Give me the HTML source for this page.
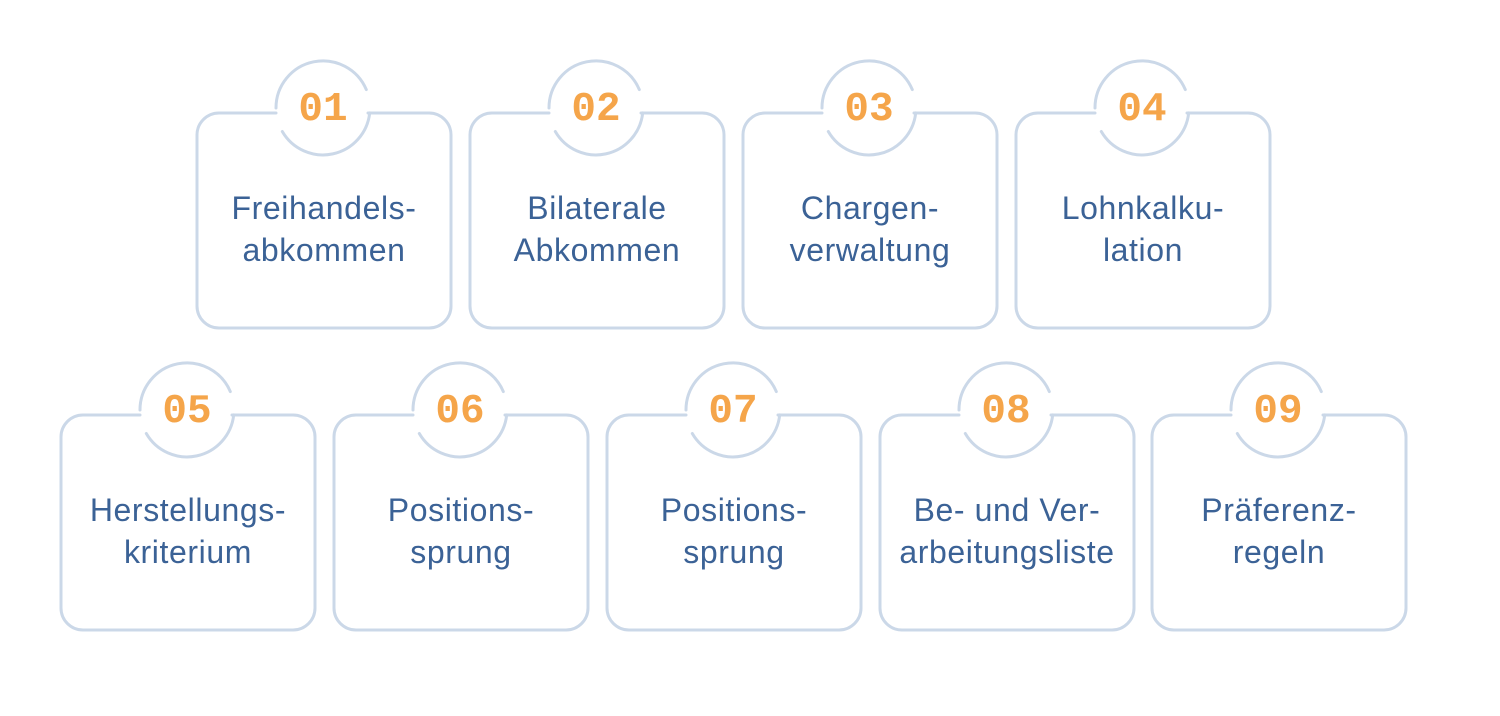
<!DOCTYPE html>
<html><head><meta charset="utf-8"><style>
html,body{margin:0;padding:0;background:#fff;}
svg{display:block;}
.t{font-family:"Liberation Sans",sans-serif;font-size:32px;letter-spacing:0.6px;fill:#3b6296;text-anchor:middle;}
.n{font-family:"Liberation Mono",monospace;font-weight:bold;font-size:41px;fill:#f5a54a;text-anchor:middle;}
</style></head><body>
<svg width="1500" height="716" viewBox="0 0 1500 716" xmlns="http://www.w3.org/2000/svg">
<defs>
<g id="c" fill="none" stroke="#cbd8e8" stroke-width="3" stroke-linecap="round">
<path d="M 79 0 H 22 A22 22 0 0 0 0 22 V 193 A22 22 0 0 0 22 215 H 232 A22 22 0 0 0 254 193 V 22 A22 22 0 0 0 232 0 H 171"/>
<path d="M 79 -5 A47 47 0 0 1 169.3 -23.4"/>
<path d="M 172.7 -0.1 A47 47 0 0 1 85.3 18.5"/>
</g>
</defs>
<use href="#c" x="197" y="113"/>
<use href="#c" x="470" y="113"/>
<use href="#c" x="743" y="113"/>
<use href="#c" x="1016" y="113"/>
<use href="#c" x="61" y="415"/>
<use href="#c" x="334" y="415"/>
<use href="#c" x="607" y="415"/>
<use href="#c" x="880" y="415"/>
<use href="#c" x="1152" y="415"/>

<text class="n" x="323" y="120">01</text>
<text class="n" x="596" y="120">02</text>
<text class="n" x="869" y="120">03</text>
<text class="n" x="1142" y="120">04</text>
<text class="n" x="187" y="422">05</text>
<text class="n" x="460" y="422">06</text>
<text class="n" x="733" y="422">07</text>
<text class="n" x="1006" y="422">08</text>
<text class="n" x="1278" y="422">09</text>

<text class="t" x="324" y="219">Freihandels-</text>
<text class="t" x="324" y="261">abkommen</text>
<text class="t" x="597" y="219">Bilaterale</text>
<text class="t" x="597" y="261">Abkommen</text>
<text class="t" x="870" y="219">Chargen-</text>
<text class="t" x="870" y="261">verwaltung</text>
<text class="t" x="1143" y="219">Lohnkalku-</text>
<text class="t" x="1143" y="261">lation</text>

<text class="t" x="188" y="521">Herstellungs-</text>
<text class="t" x="188" y="563">kriterium</text>
<text class="t" x="461" y="521">Positions-</text>
<text class="t" x="461" y="563">sprung</text>
<text class="t" x="734" y="521">Positions-</text>
<text class="t" x="734" y="563">sprung</text>
<text class="t" x="1007" y="521">Be- und Ver-</text>
<text class="t" x="1007" y="563">arbeitungsliste</text>
<text class="t" x="1279" y="521">Präferenz-</text>
<text class="t" x="1279" y="563">regeln</text>
</svg>
</body></html>
